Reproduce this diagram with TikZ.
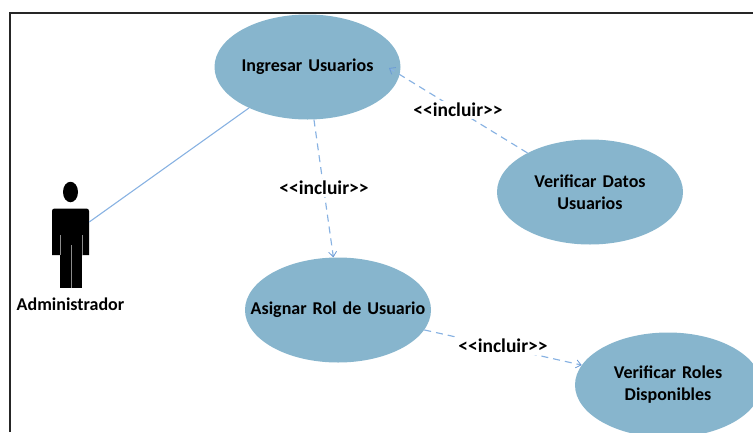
\documentclass[tikz,border=0pt]{standalone}
\usepackage{fontspec}
\setmainfont{Carlito}[WordSpace=0.75]
\usetikzlibrary{shapes.geometric,arrows.meta}
\definecolor{uc}{HTML}{87B5CD}
\definecolor{conn}{HTML}{88B2E2}
\definecolor{tip}{HTML}{6A9AD6}
\tikzset{
  usecase/.style={ellipse,fill=uc,minimum width=186pt,minimum height=105pt,inner sep=0pt,text width=100pt,align=center,font=\fontsize{18}{22}\selectfont\bfseries},
  rel/.style={draw=conn,line width=1.15pt,dash pattern=on 7pt off 5pt,-{Straight Barb[length=5pt,width=8pt,line width=.8pt,color=tip]}},
  assoc/.style={draw=conn,line width=1.1pt},
  lbl/.style={fill=white,inner sep=2pt,font=\fontsize{19.5}{20}\selectfont\bfseries},
  actorname/.style={inner sep=0pt,font=\fontsize{18}{20}\selectfont\bfseries}
}
\newcommand{\wide}[1]{\makebox[0pt][c]{#1}}
\begin{document}
\begin{tikzpicture}[x=1pt,y=-1pt]
\useasboundingbox (0,0) rectangle (753,432);
\clip (0,0) rectangle (753,432);
\draw[line width=2pt,black!85] (9.5,432) -- (9.5,12.5) -- (753,12.5);
\node[usecase] (ingresar) at (307.5,67) {\wide{\raisebox{-1.5pt}{Ingresar Usuarios}}};
\node[usecase] (datos) at (590,192) {\wide{Verificar Datos}\\\wide{Usuarios}};
\node[usecase] (asignar) at (338,310) {\wide{Asignar Rol de Usuario}};
\node[usecase] (roles) at (668,385) {\wide{Verificar Roles}\\\wide{Disponibles}};
% actor
\node[ellipse,fill=black,minimum width=15pt,minimum height=20.5pt,inner sep=0pt] (head) at (70.5,192) {};
\fill[black] (52,255) -- (52,211) arc (180:270:2.5) -- (86.5,208.5) arc (270:360:2.5) -- (89,255) -- cycle;
\fill[black] (60,255) rectangle (82,288);
\draw[black!45,line width=.9pt] (60,235) -- (60,255) (82,235) -- (82,255) (71,245) -- (71,288);
\node[minimum width=37pt,minimum height=46pt,inner sep=0pt] (actor) at (70.5,231.5) {};
\node[actorname] (admin) at (70.5,304) {Administrador};
\coordinate (arrowend) at (389,68);
\draw[assoc] (actor.east |- 0,222) -- (ingresar.215);
\draw[rel] (datos.148) -- (arrowend);
\draw[rel] (ingresar.-83) -- (asignar.95.5);
\draw[rel] (asignar.-13) -- (roles.167);
\node[lbl] (l1) at (458,110) {<{}<incluir>{}>};
\node[lbl] (l2) at (324,188) {<{}<incluir>{}>};
\node[lbl] (l3) at (503,346) {<{}<incluir>{}>};
\end{tikzpicture}
\end{document}
